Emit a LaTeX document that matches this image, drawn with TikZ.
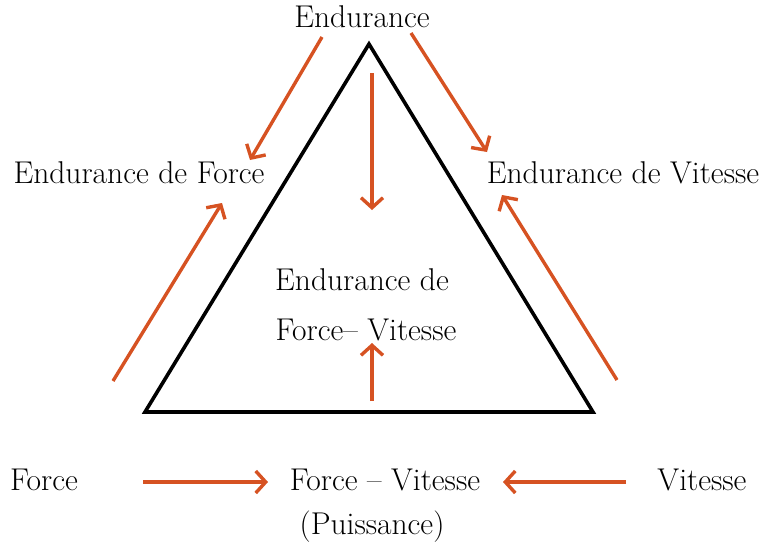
\documentclass[tikz,border=0pt]{standalone}
\usepackage{fontspec}
\usetikzlibrary{arrows.meta}
\definecolor{flow}{RGB}{214,82,34}
\begin{document}
\begin{tikzpicture}[x=1pt,y=-1pt,
  lbl/.style={inner sep=0pt,font=\fontsize{31.5}{38}\selectfont},
  flowarrow/.style={draw=flow,line width=3.4pt,
    -{Straight Barb[length=10pt,width=22pt,line width=3.4pt]}},
  tri/.style={draw=black,line width=3.6pt,line join=miter}]
\useasboundingbox (0,0) rectangle (766,550);

% triangle
\coordinate (apex) at (369,44);
\coordinate (bl) at (145,412);
\coordinate (br) at (593,412);
\draw[tri] (apex) -- (bl) -- (br) -- cycle;

% labels
\node[lbl] (end)   at (362,17)  {Endurance};
\node[lbl] (endf)  at (139,173) {Endurance de Force};
\node[lbl] (endv)  at (623,173) {Endurance de Vitesse};
\node[lbl] (endfv1) at (362,280) {Endurance de};
\node[lbl] (endfv2) at (366,330) {Force– Vitesse};
\node[lbl] (force) at (44,480)  {Force};
\node[lbl] (fv)    at (385,480) {Force – Vitesse};
\node[lbl] (vit)   at (702,480) {Vitesse};
\node[lbl] (puis)  at (372,527) {(Puissance)};

% arrow end points
\coordinate (a1s) at (322,37);  \coordinate (a1e) at (250,160);
\coordinate (a2s) at (411,33);  \coordinate (a2e) at (487,152);
\coordinate (a3s) at (372,73);  \coordinate (a3e) at (372,210);
\coordinate (a4s) at (113,381); \coordinate (a4e) at (222,203);
\coordinate (a5s) at (617,380); \coordinate (a5e) at (502,195);
\coordinate (a6s) at (372,401); \coordinate (a6e) at (372,343);
\coordinate (a7s) at (143,482); \coordinate (a7e) at (268,482);
\coordinate (a8s) at (626,482); \coordinate (a8e) at (503,482);

\draw[flowarrow] (a1s) -- (a1e);
\draw[flowarrow] (a2s) -- (a2e);
\draw[flowarrow] (a3s) -- (a3e);
\draw[flowarrow] (a4s) -- (a4e);
\draw[flowarrow] (a5s) -- (a5e);
\draw[flowarrow] (a6s) -- (a6e);
\draw[flowarrow] (a7s) -- (a7e);
\draw[flowarrow] (a8s) -- (a8e);
\end{tikzpicture}
\end{document}
